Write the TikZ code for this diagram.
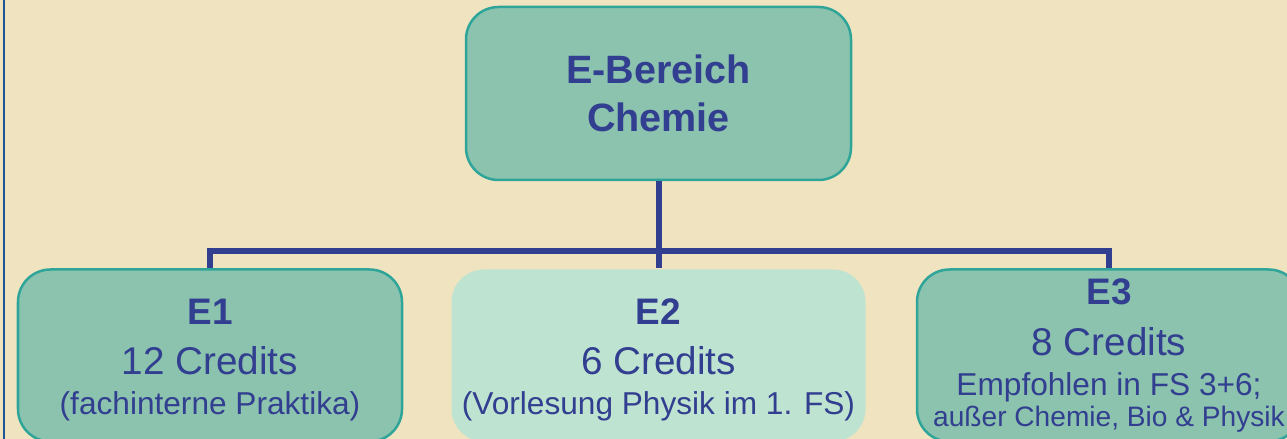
\documentclass[tikz,border=0pt]{standalone}
\usepackage{fontspec}
\setmainfont{Liberation Sans}
\usetikzlibrary{positioning}
\definecolor{paper}{RGB}{240,227,192}
\definecolor{ink}{RGB}{50,62,143}
\definecolor{boxfill}{RGB}{139,195,174}
\definecolor{boxline}{RGB}{47,165,154}
\definecolor{lightfill}{RGB}{190,227,208}
\definecolor{frame}{RGB}{31,84,151}
\tikzstyle{block} = [align=center,rectangle,rounded corners=0.65cm,draw=boxline,line width=0.05cm,fill=boxfill,text=ink]
\tikzstyle{head} = [block,minimum width=7.7cm,minimum height=3.46cm,font=\bfseries\fontsize{22.5}{27.3}\selectfont]
\tikzstyle{part} = [block,minimum height=3.44cm,font=\fontsize{22}{23}\selectfont]
\tikzstyle{conn} = [draw=ink,line width=0.12cm]
\newcommand{\blockname}[1]{{\bfseries\fontsize{21}{24}\selectfont\rule{0pt}{20pt}#1}}

\begin{document}
\begin{tikzpicture}
				\fill[paper] (0,0) rectangle (25.74,-8.78);
				\useasboundingbox (0,0) rectangle (25.74,-8.78);
				\draw[frame,line width=0.04cm] (0.08,0) -- (0.08,-8.78);
				\node (top) [head] at (13.17,-1.87) {E-Bereich\\Chemie};
				\node (e2) [part,below=1.74cm of top,minimum width=8.28cm,draw=none,fill=lightfill] {\blockname{E2}\\[5pt]6 Credits\\{\fontsize{18}{23}\selectfont (Vorlesung Physik im 1. FS)}};
				\node (e1) [part,left=0.94cm of e2,minimum width=7.68cm] {\blockname{E1}\\[5pt]12 Credits\\{\fontsize{18}{23}\selectfont (fachinterne Praktika)}};
				\node (e3) [part,right=0.98cm of e2,minimum width=7.68cm,font=\fontsize{22}{18}\selectfont] {{\bfseries\fontsize{21}{24}\selectfont E3}\\[11pt]8 Credits\\[4.8pt]{\fontsize{18}{18}\selectfont Empfohlen in FS 3+6;}\\{\fontsize{16}{18}\selectfont außer Chemie, Bio \& Physik}};
				\coordinate (bus) at (13.12,-5.02);
				\draw [conn] (top.south) -- (top.south |- bus);
				\draw [conn] (e1.north) -- (e1.north |- bus) -- (e3.north |- bus) -- (e3.north);
				\draw [conn] (e2.north) -- (e2.north |- bus);
			\end{tikzpicture}
\end{document}
